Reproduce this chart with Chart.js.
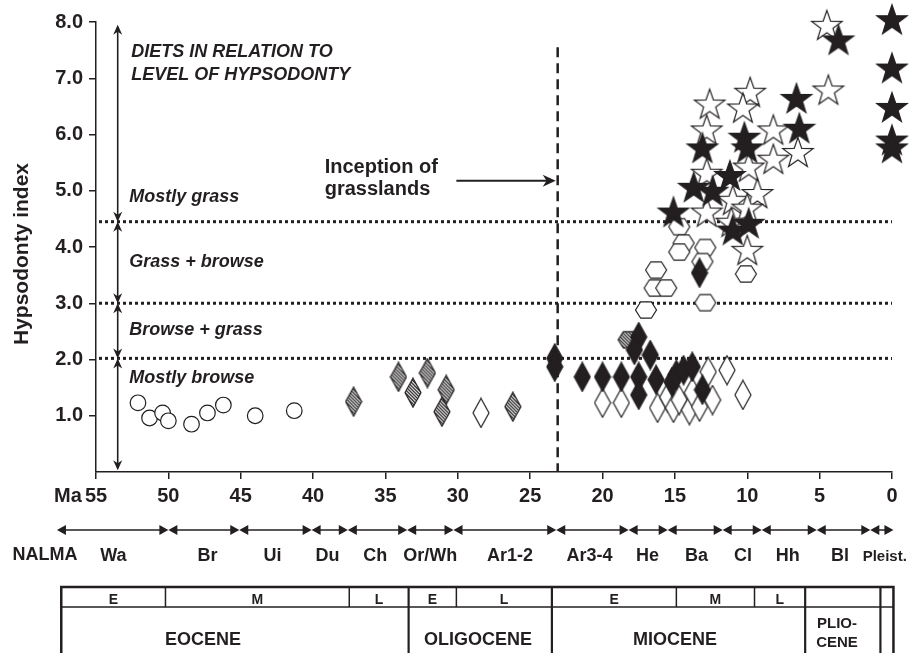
<!DOCTYPE html>
<html><head><meta charset="utf-8">
<script src="https://cdn.jsdelivr.net/npm/chart.js@4/dist/chart.umd.min.js"></script>
<style>html,body{margin:0;padding:0;background:#fff}canvas{display:block}</style>
</head><body>
<canvas id="c" width="917" height="653"></canvas>
<script>
const INK = '#231f20';
const FONT = "'Liberation Sans', Arial, Helvetica, sans-serif";

// ---- data: [age in Ma, hypsodonty index] ----
const circlesOpen = [[52.1,1.23],[51.3,0.96],[50.4,1.05],[50.0,0.91],[48.4,0.85],[47.3,1.05],[46.2,1.19],[44.0,1.00],[41.3,1.09]];
const diamondsHatched = [[37.2,1.25],[34.1,1.69],[33.1,1.41],[32.1,1.76],[30.8,1.46],[31.1,1.07],[26.2,1.16]];
const diamondsOpen = [[28.4,1.05],[20.0,1.23],[18.7,1.23],[16.2,1.14],[15.5,1.33],[15.1,1.14],[14.7,1.28],[14.0,1.10],[13.8,1.41],[13.3,1.16],[12.7,1.78],[12.4,1.28],[11.4,1.81],[10.3,1.37]];
const diamondsFilled = [[23.3,2.02],[23.3,1.87],[21.4,1.69],[20.0,1.69],[18.7,1.69],[17.5,2.40],[17.8,2.17],[16.7,2.08],[17.5,1.69],[17.5,1.37],[16.3,1.64],[15.2,1.60],[14.9,1.73],[14.4,1.81],[13.8,1.87],[13.1,1.46],[13.3,3.54]];
const hexHatched = [[18.2,2.35]];
const hexOpen = [[14.7,4.36],[14.4,4.07],[14.7,3.91],[12.9,3.99],[13.1,3.74],[16.3,3.59],[16.4,3.27],[15.6,3.27],[17.0,2.88],[12.9,3.01],[10.1,3.52]];
const starsOpen = [[4.5,7.95],[4.4,6.80],[6.5,5.69],[8.2,6.09],[8.2,5.57],[9.8,6.76],[10.3,6.48],[12.6,6.55],[12.8,6.09],[12.8,5.32],[9.9,5.43],[9.3,4.96],[11.0,4.84],[10.0,4.70],[12.8,4.63],[11.1,4.45],[10.0,3.95]];
const starsFilled = [[0,8.05],[3.7,7.69],[0,7.19],[0,6.49],[0,5.91],[0,5.77],[6.6,6.65],[6.4,6.12],[13.1,5.77],[10.2,5.96],[10.0,5.77],[11.2,5.28],[13.7,5.07],[12.4,5.00],[15.1,4.63],[9.9,4.43],[11.0,4.31]];

const xTicks = [55,50,45,40,35,30,25,20,15,10,5,0];
const yTicks = [1,2,3,4,5,6,7,8];
const dietLevels = [4.45, 3.0, 2.02];
const dietSpans = [[7.95,4.45],[4.45,3.0],[3.0,2.02],[2.02,0.03]];
const dietLabels = ['Mostly grass','Grass + browse','Browse + grass','Mostly browse'];
const dietLabelY = [4.89, 3.74, 2.53, 1.67];
const grasslandMa = 23.1;

const nalmaNames = ['Wa','Br','Ui','Du','Ch','Or/Wh','Ar1-2','Ar3-4','He','Ba','Cl','Hh','Bl','Pleist.'];
const nalmaBounds = [57.7,50.0,45.1,40.1,37.6,33.5,30.3,23.2,18.2,15.5,11.7,9.0,5.2,1.5,-0.1];
const nalmaLabelMa = [53.8,47.3,42.8,39.0,35.7,31.9,26.4,20.9,16.9,13.5,10.3,7.2,3.6,0.5];

const epochNames = ['EOCENE','OLIGOCENE','MIOCENE',['PLIO-','CENE'],''];
const epochLabelMa = [47.6,28.6,15.0,3.8,0.35];
const epochBounds = [57.4,33.4,23.5,6.0,0.8,-0.1];
const subBounds = [[57.4,50.2,37.5,33.4],[33.4,30.1,23.5],[23.5,14.9,9.5,6.0],[6.0,0.8],[0.8,-0.1]];
const subNames = [['E','M','L'],['E','L'],['E','M','L'],[''],['']];

// ---- marker images ----
function mk(w,h,draw){const c=document.createElement('canvas');c.width=w;c.height=h;const g=c.getContext('2d');draw(g,w,h);return c;}
function hatch(g,w,h){g.save();g.clip();g.strokeStyle=INK;g.lineWidth=1.3;for(let k=-h;k<w+h;k+=3.3){g.beginPath();g.moveTo(k,0);g.lineTo(k+h,h);g.stroke();}g.restore();}
function starPath(g,cx,cy,R,r){g.beginPath();for(let i=0;i<10;i++){const a=-Math.PI/2+i*Math.PI/5;const rr=i%2?r:R;g.lineTo(cx+rr*Math.cos(a),cy+rr*Math.sin(a));}g.closePath();}
function starImg(fill){return mk(36,36,(g,w,h)=>{const R=16;starPath(g,w/2,h/2+0.1*R,R,R*0.4);g.fillStyle=fill;g.fill();g.lineWidth=1.2;g.strokeStyle=INK;g.lineJoin='miter';g.stroke();});}
function diamondPath(g,w,h){g.beginPath();g.moveTo(w/2,1);g.lineTo(w-1,h/2);g.lineTo(w/2,h-1);g.lineTo(1,h/2);g.closePath();}
function diamondImg(kind){return mk(18,31,(g,w,h)=>{diamondPath(g,w,h);g.fillStyle=kind==='filled'?INK:'#fff';g.fill();if(kind==='hatched'){diamondPath(g,w,h);hatch(g,w,h);}diamondPath(g,w,h);g.lineWidth=1.2;g.strokeStyle=INK;g.stroke();});}
function hexPath(g,w,h){const cx=w/2,cy=h/2;g.beginPath();g.moveTo(cx-10.5,cy);g.lineTo(cx-5.3,cy-8.2);g.lineTo(cx+5.3,cy-8.2);g.lineTo(cx+10.5,cy);g.lineTo(cx+5.3,cy+8.2);g.lineTo(cx-5.3,cy+8.2);g.closePath();}
function hexImg(h){return mk(24,20,(g,w,hh)=>{hexPath(g,w,hh);g.fillStyle='#fff';g.fill();if(h){hexPath(g,w,hh);hatch(g,w,hh);}hexPath(g,w,hh);g.lineWidth=1.2;g.strokeStyle=INK;g.stroke();});}

const imgs = {
  starOpen: starImg('#fff'), starFilled: starImg(INK),
  dOpen: diamondImg('open'), dFilled: diamondImg('filled'), dHatched: diamondImg('hatched'),
  hOpen: hexImg(false), hHatched: hexImg(true)
};
const pts = a => a.map(p => ({x:p[0], y:p[1]}));
function ds(label,data,style,order,extra){return Object.assign({label,data:pts(data),pointStyle:style,pointRadius:8,pointHoverRadius:8,showLine:false,order,clip:false},extra||{});}

// ---- helpers for decorations ----
function head(ctx,x,y,ang,len,hw){const c=Math.cos(ang),s=Math.sin(ang);ctx.beginPath();ctx.moveTo(x,y);ctx.lineTo(x-len*c-hw*s,y-len*s+hw*c);ctx.lineTo(x-0.7*len*c,y-0.7*len*s);ctx.lineTo(x-len*c+hw*s,y-len*s-hw*c);ctx.closePath();ctx.fill();}
function tri(ctx,x,y,dir,len,hw){ctx.beginPath();ctx.moveTo(x,y);ctx.lineTo(x-dir*len,y-hw);ctx.lineTo(x-dir*len,y+hw);ctx.closePath();ctx.fill();}

const decor = {
  id:'decor',
  beforeDatasetsDraw(chart){
    const {ctx, scales:{x,y}} = chart;
    ctx.save();
    ctx.strokeStyle = INK;
    ctx.lineWidth = 3; ctx.setLineDash([3,3]); ctx.lineCap='butt';
    dietLevels.forEach(v=>{const py=y.getPixelForValue(v);ctx.beginPath();ctx.moveTo(x.getPixelForValue(55)+3,py);ctx.lineTo(x.getPixelForValue(0),py);ctx.stroke();});
    ctx.lineWidth = 2.5; ctx.setLineDash([10,6]);
    const gx = x.getPixelForValue(grasslandMa);
    ctx.beginPath(); ctx.moveTo(gx,y.getPixelForValue(7.55)); ctx.lineTo(gx,y.getPixelForValue(0)); ctx.stroke();
    ctx.restore();
  },
  afterDraw(chart){
    const {ctx, scales:{x,y}} = chart;
    ctx.save();
    ctx.fillStyle = INK; ctx.strokeStyle = INK;
    // diet scale double arrows
    const ax = x.getPixelForValue(53.5);
    ctx.lineWidth = 1.6;
    dietSpans.forEach(([a,b])=>{
      const ya=y.getPixelForValue(a), yb=y.getPixelForValue(b);
      ctx.beginPath(); ctx.moveTo(ax,ya+2); ctx.lineTo(ax,yb-2); ctx.stroke();
      head(ctx,ax,ya,-Math.PI/2,10,4.5);
      head(ctx,ax,yb,Math.PI/2,10,4.5);
    });
    // diet texts
    const tx = x.getPixelForValue(52.7);
    ctx.font = "italic bold 18px "+FONT; ctx.textAlign='left'; ctx.textBaseline='middle';
    ctx.fillText('DIETS IN RELATION TO', tx+2, y.getPixelForValue(7.46));
    ctx.fillText('LEVEL OF HYPSODONTY', tx+2, y.getPixelForValue(7.06));
    dietLabels.forEach((t,i)=>ctx.fillText(t, tx, y.getPixelForValue(dietLabelY[i])));
    // inception of grasslands
    ctx.font = "bold 20px "+FONT;
    ctx.fillText('Inception of', x.getPixelForValue(39.2), y.getPixelForValue(5.41));
    ctx.fillText('grasslands', x.getPixelForValue(39.2), y.getPixelForValue(5.02));
    const ay = y.getPixelForValue(5.18);
    const x1 = x.getPixelForValue(30.1), x2 = x.getPixelForValue(grasslandMa)-2;
    ctx.lineWidth = 2; ctx.beginPath(); ctx.moveTo(x1,ay); ctx.lineTo(x2-8,ay); ctx.stroke();
    head(ctx,x2,ay,0,13,6);
    // axis labels
    ctx.font = "bold 20px "+FONT; ctx.textAlign='center';
    ctx.fillText('Ma', 68, 496);
    ctx.font = "bold 21px "+FONT;
    ctx.save(); ctx.translate(22, 254); ctx.rotate(-Math.PI/2); ctx.fillText('Hypsodonty index',0,0); ctx.restore();
    // NALMA
    const ny = 530;
    ctx.lineWidth = 1.5;
    for(let i=0;i<nalmaBounds.length-1;i++){
      const a=x.getPixelForValue(nalmaBounds[i]), b=x.getPixelForValue(nalmaBounds[i+1]);
      ctx.beginPath(); ctx.moveTo(a+4,ny); ctx.lineTo(b-4,ny); ctx.stroke();
      tri(ctx,a,ny,-1,9,5); tri(ctx,b,ny,1,9,5);
    }
    ctx.textBaseline='alphabetic';
    ctx.font = "bold 18px "+FONT; ctx.textAlign='center';
    ctx.fillText('NALMA', 45, 560);
    nalmaNames.forEach((n,i)=>{
      ctx.font = (n==='Pleist.'?"bold 15px ":"bold 18px ")+FONT;
      ctx.fillText(n, x.getPixelForValue(nalmaLabelMa[i]), 561);
    });
    // epoch table
    const tTop=587, tMid=607, tBot=656;
    const L=x.getPixelForValue(epochBounds[0]), R=x.getPixelForValue(epochBounds[epochBounds.length-1]);
    ctx.lineWidth=1.5;
    ctx.beginPath(); ctx.moveTo(L,tMid); ctx.lineTo(R,tMid); ctx.stroke();
    subBounds.forEach((sb,e)=>{
      for(let k=1;k<sb.length-1;k++){const px=x.getPixelForValue(sb[k]);ctx.beginPath();ctx.moveTo(px,tTop);ctx.lineTo(px,tMid);ctx.stroke();}
      ctx.font="bold 14px "+FONT;
      subNames[e].forEach((s,k)=>{ if(s){const c=(x.getPixelForValue(sb[k])+x.getPixelForValue(sb[k+1]))/2; ctx.fillText(s,c,604);} });
    });
    ctx.lineWidth=2.2;
    for(let i=1;i<epochBounds.length-1;i++){const px=x.getPixelForValue(epochBounds[i]);ctx.beginPath();ctx.moveTo(px,tTop);ctx.lineTo(px,tBot);ctx.stroke();}
    ctx.lineWidth=2.5;
    ctx.strokeRect(L,tTop,R-L,tBot-tTop);
    epochNames.forEach((n,i)=>{
      const cx=x.getPixelForValue(epochLabelMa[i]);
      if(Array.isArray(n)){ctx.font="bold 15px "+FONT;ctx.fillText(n[0],cx,628);ctx.fillText(n[1],cx,647);}
      else if(n){ctx.font="bold 18px "+FONT;ctx.fillText(n,cx,645);}
    });
    ctx.restore();
  }
};

new Chart(document.getElementById('c'), {
  type:'scatter',
  data:{datasets:[
    ds('circles', circlesOpen, 'circle', 9, {pointRadius:7.8, backgroundColor:'#fff', borderColor:INK, borderWidth:1.2}),
    ds('hatched diamonds', diamondsHatched, imgs.dHatched, 8),
    ds('open diamonds', diamondsOpen, imgs.dOpen, 7),
    ds('open hexagons', hexOpen, imgs.hOpen, 6),
    ds('hatched hexagons', hexHatched, imgs.hHatched, 5),
    ds('filled diamonds', diamondsFilled, imgs.dFilled, 4),
    ds('open stars', starsOpen, imgs.starOpen, 3),
    ds('filled stars', starsFilled, imgs.starFilled, 2)
  ]},
  options:{
    responsive:false, animation:false, devicePixelRatio:1,
    layout:{padding:{left:0,right:25,top:22,bottom:0}},
    plugins:{legend:{display:false}, tooltip:{enabled:false}},
    events:[],
    scales:{
      x:{type:'linear', reverse:true, min:0, max:55,
        afterBuildTicks(s){s.ticks = xTicks.map(v=>({value:v}));},
        afterFit(s){s.height = 181;},
        ticks:{color:INK, font:{family:FONT, size:20, weight:'bold'}, padding:5, maxRotation:0, autoSkip:false, callback:v=>String(v)},
        grid:{drawOnChartArea:false, drawTicks:true, tickLength:7, color:INK, lineWidth:1.5},
        border:{color:INK, width:1.5}
      },
      y:{type:'linear', min:0, max:8,
        afterBuildTicks(s){s.ticks = yTicks.map(v=>({value:v}));},
        afterFit(s){s.width = 96;},
        ticks:{color:INK, font:{family:FONT, size:20, weight:'bold'}, padding:6, callback:v=>v.toFixed(1)},
        grid:{drawOnChartArea:false, drawTicks:true, tickLength:7, color:INK, lineWidth:1.5},
        border:{color:INK, width:1.5}
      }
    }
  },
  plugins:[decor]
});
</script>
</body></html>
